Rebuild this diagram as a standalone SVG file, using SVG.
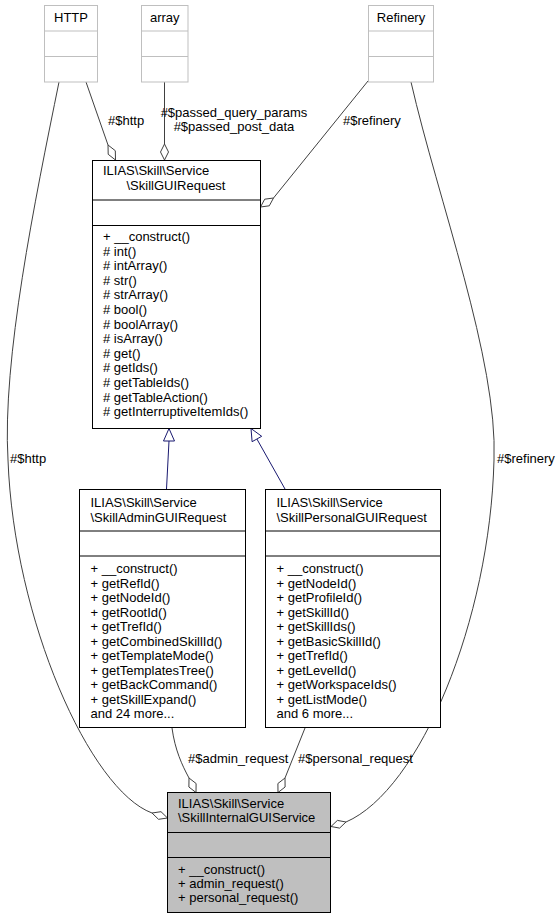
<svg xmlns="http://www.w3.org/2000/svg" width="560" height="919" viewBox="0 0 560 919">
<style>
text{font-family:"Liberation Sans",Arial,sans-serif;font-size:13px;fill:#000}
.ext rect{fill:#fff;stroke:#bfbfbf;stroke-width:1}
.ext line{stroke:#bfbfbf;stroke-width:1}
.cls rect{fill:#fff;stroke:#000;stroke-width:1}
.cls line{stroke:#000;stroke-width:1}
.cur rect{fill:#bfbfbf;stroke:#000;stroke-width:1}
.cur line{stroke:#000;stroke-width:1}
.mid{text-anchor:middle}
.agg{fill:none;stroke:#404040;stroke-width:1}
.dia{fill:#fff;stroke:#404040;stroke-width:1}
.inh{fill:none;stroke:#191970;stroke-width:1}
.tri{fill:#fff;stroke:#191970;stroke-width:1}
</style>
<rect width="560" height="919" fill="#fff"/>

<g id="edges">
  <!-- HTTP -> Internal -->
  <path class="agg" d="M59,82 C35,200 2,360 8,460 C14,620 90,790 152,813"/>
  <polygon class="dia" points="167.5,818 158.5,819.3 152,813 161,811.7"/>
  <text x="10" y="463">#$http</text>
  <!-- HTTP -> SkillGUIRequest -->
  <path class="agg" d="M86,82 L108,145"/>
  <polygon class="dia" points="115.5,160 108.2,154.3 108,145 115.3,150.7"/>
  <text x="108" y="125">#$http</text>
  <!-- array -> SkillGUIRequest -->
  <path class="agg" d="M164.5,82 L164.5,144"/>
  <polygon class="dia" points="164.5,160 160.5,152 164.5,144 168.5,152"/>
  <text class="mid" x="234" y="117">#$passed_query_params</text>
  <text class="mid" x="234" y="131">#$passed_post_data</text>
  <!-- Refinery -> SkillGUIRequest -->
  <path class="agg" d="M368,81 L273.5,198"/>
  <polygon class="dia" points="260.5,207 264.7,199.2 273.5,198 269.3,205.8"/>
  <text x="343" y="125">#$refinery</text>
  <!-- Refinery -> Internal -->
  <path class="agg" d="M411,82 C438,200 498,360 494,460 C490,620 420,790 346,822"/>
  <polygon class="dia" points="331,826.5 337.4,820.4 346,822 339.6,828.1"/>
  <text x="497" y="463">#$refinery</text>
  <!-- Admin -> SkillGUIRequest (inheritance) -->
  <path class="inh" d="M166.5,489 L169,441"/>
  <polygon class="tri" points="169,428.5 174.5,441 163.5,441"/>
  <!-- Personal -> SkillGUIRequest (inheritance) -->
  <path class="inh" d="M285,489 L256.9,439"/>
  <polygon class="tri" points="251,428.5 261.7,436.3 252.1,441.7"/>
  <!-- Admin -> Internal -->
  <path class="agg" d="M172,728 C175,750 182,765 189,778"/>
  <polygon class="dia" points="196,792.5 188.9,787 189,778 196.1,783.5"/>
  <text x="188" y="763">#$admin_request</text>
  <!-- Personal -> Internal -->
  <path class="agg" d="M305,728 L285,778"/>
  <polygon class="dia" points="278,792.5 277.9,783.5 285,778 285.1,787"/>
  <text x="298" y="763">#$personal_request</text>
</g>

<g id="HTTP" class="ext">
  <rect x="44.5" y="5.5" width="53" height="76.5"/>
  <line x1="44.5" y1="31" x2="97.5" y2="31"/>
  <line x1="44.5" y1="56.5" x2="97.5" y2="56.5"/>
  <text class="mid" x="71" y="22">HTTP</text>
</g>

<g id="array" class="ext">
  <rect x="141.5" y="5.5" width="46.5" height="76.5"/>
  <line x1="141.5" y1="31" x2="188" y2="31"/>
  <line x1="141.5" y1="56.5" x2="188" y2="56.5"/>
  <text class="mid" x="164.75" y="22">array</text>
</g>

<g id="Refinery" class="ext">
  <rect x="368.5" y="5.5" width="65" height="76.5"/>
  <line x1="368.5" y1="31" x2="433.5" y2="31"/>
  <line x1="368.5" y1="56.5" x2="433.5" y2="56.5"/>
  <text class="mid" x="401" y="22">Refinery</text>
</g>

<g id="SkillGUIRequest" class="cls">
  <rect x="92.5" y="160.5" width="168" height="268"/>
  <line x1="92.5" y1="200" x2="260.5" y2="200"/>
  <line x1="92.5" y1="225.5" x2="260.5" y2="225.5"/>
  <text x="103" y="175">ILIAS\Skill\Service</text>
  <text class="mid" x="176" y="190">\SkillGUIRequest</text>
  <text x="103" y="241">+ __construct()</text>
  <text x="103" y="255.6"># int()</text>
  <text x="103" y="270.2"># intArray()</text>
  <text x="103" y="284.8"># str()</text>
  <text x="103" y="299.4"># strArray()</text>
  <text x="103" y="314"># bool()</text>
  <text x="103" y="328.6"># boolArray()</text>
  <text x="103" y="343.2"># isArray()</text>
  <text x="103" y="357.8"># get()</text>
  <text x="103" y="372.4"># getIds()</text>
  <text x="103" y="387"># getTableIds()</text>
  <text x="103" y="401.6"># getTableAction()</text>
  <text x="103" y="416.2"># getInterruptiveItemIds()</text>
</g>

<g id="SkillAdminGUIRequest" class="cls">
  <rect x="79.5" y="489.5" width="166" height="238"/>
  <line x1="79.5" y1="531" x2="245.5" y2="531"/>
  <line x1="79.5" y1="556" x2="245.5" y2="556"/>
  <text x="90.5" y="506.5">ILIAS\Skill\Service</text>
  <text x="90.5" y="521.5">\SkillAdminGUIRequest</text>
  <text x="90.5" y="573">+ __construct()</text>
  <text x="90.5" y="587.5">+ getRefId()</text>
  <text x="90.5" y="602">+ getNodeId()</text>
  <text x="90.5" y="616.5">+ getRootId()</text>
  <text x="90.5" y="631">+ getTrefId()</text>
  <text x="90.5" y="645.5">+ getCombinedSkillId()</text>
  <text x="90.5" y="660">+ getTemplateMode()</text>
  <text x="90.5" y="674.5">+ getTemplatesTree()</text>
  <text x="90.5" y="689">+ getBackCommand()</text>
  <text x="90.5" y="703.5">+ getSkillExpand()</text>
  <text x="90.5" y="718">and 24 more...</text>
</g>

<g id="SkillPersonalGUIRequest" class="cls">
  <rect x="265.5" y="489.5" width="175" height="238"/>
  <line x1="265.5" y1="531" x2="440.5" y2="531"/>
  <line x1="265.5" y1="556" x2="440.5" y2="556"/>
  <text x="276.5" y="506.5">ILIAS\Skill\Service</text>
  <text x="276.5" y="521.5">\SkillPersonalGUIRequest</text>
  <text x="276.5" y="573">+ __construct()</text>
  <text x="276.5" y="587.5">+ getNodeId()</text>
  <text x="276.5" y="602">+ getProfileId()</text>
  <text x="276.5" y="616.5">+ getSkillId()</text>
  <text x="276.5" y="631">+ getSkillIds()</text>
  <text x="276.5" y="645.5">+ getBasicSkillId()</text>
  <text x="276.5" y="660">+ getTrefId()</text>
  <text x="276.5" y="674.5">+ getLevelId()</text>
  <text x="276.5" y="689">+ getWorkspaceIds()</text>
  <text x="276.5" y="703.5">+ getListMode()</text>
  <text x="276.5" y="718">and 6 more...</text>
</g>

<g id="SkillInternalGUIService" class="cur">
  <rect x="167.5" y="792.5" width="163" height="120"/>
  <line x1="167.5" y1="832.5" x2="330.5" y2="832.5"/>
  <line x1="167.5" y1="857.5" x2="330.5" y2="857.5"/>
  <text x="178" y="808">ILIAS\Skill\Service</text>
  <text x="178" y="822">\SkillInternalGUIService</text>
  <text x="178" y="874">+ __construct()</text>
  <text x="178" y="888">+ admin_request()</text>
  <text x="178" y="902">+ personal_request()</text>
</g>
</svg>
